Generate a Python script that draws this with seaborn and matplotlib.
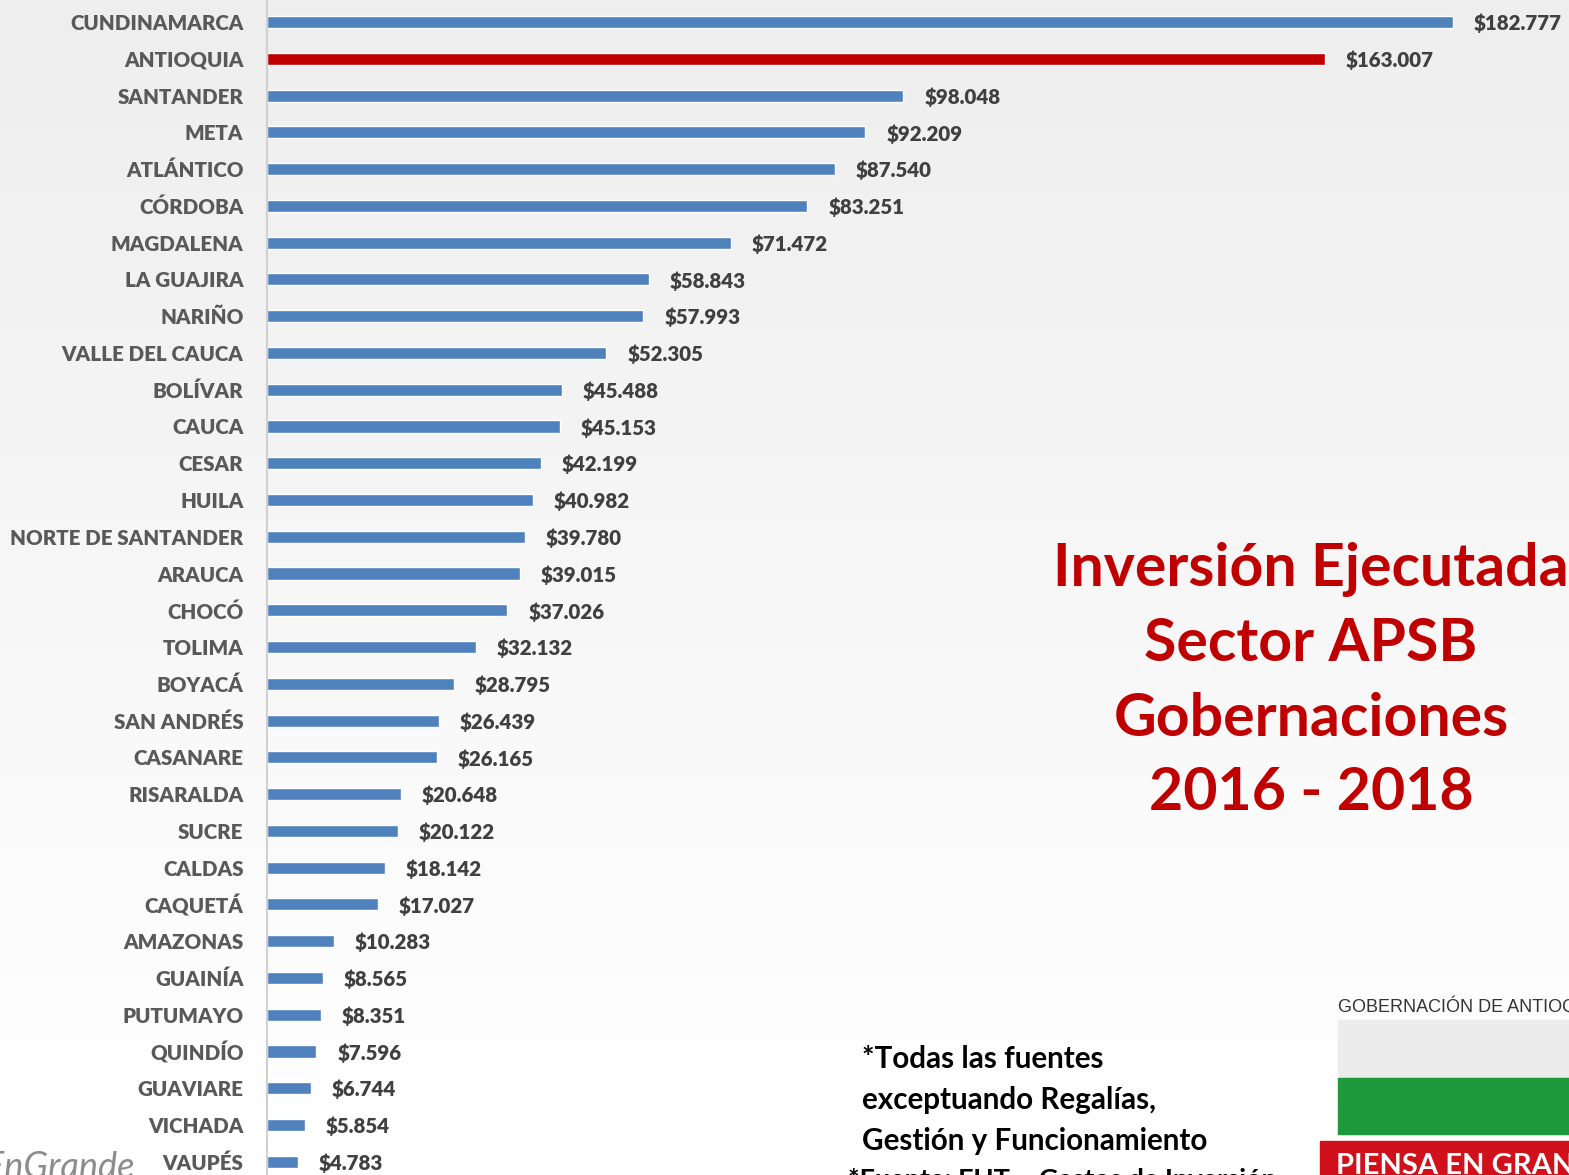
import matplotlib
matplotlib.use("Agg")
import matplotlib.pyplot as plt
import numpy as np
import pandas as pd
import seaborn as sns

departamentos = [
    "CUNDINAMARCA", "ANTIOQUIA", "SANTANDER", "META", "ATLÁNTICO", "CÓRDOBA",
    "MAGDALENA", "LA GUAJIRA", "NARIÑO", "VALLE DEL CAUCA", "BOLÍVAR", "CAUCA",
    "CESAR", "HUILA", "NORTE DE SANTANDER", "ARAUCA", "CHOCÓ", "TOLIMA",
    "BOYACÁ", "SAN ANDRÉS", "CASANARE", "RISARALDA", "SUCRE", "CALDAS",
    "CAQUETÁ", "AMAZONAS", "GUAINÍA", "PUTUMAYO", "QUINDÍO", "GUAVIARE",
    "VICHADA", "VAUPÉS",
]
inversion = [
    182777, 163007, 98048, 92209, 87540, 83251,
    71472, 58843, 57993, 52305, 45488, 45153,
    42199, 40982, 39780, 39015, 37026, 32132,
    28795, 26439, 26165, 20648, 20122, 18142,
    17027, 10283, 8565, 8351, 7596, 6744,
    5854, 4783,
]
destacado = "ANTIOQUIA"

titulo = "Inversión Ejecutada\nSector APSB\nGobernaciones\n2016 - 2018"
nota = "*Todas las fuentes\nexceptuando Regalías,\nGestión y Funcionamiento"
fuente = "*Fuente: FUT – Gastos de Inversión"

df = pd.DataFrame({"departamento": departamentos, "inversion": inversion})

sns.set_theme(style="white")
plt.rcParams["font.family"] = ["Lato", "DejaVu Sans"]

W, H = 1569, 1175
fig = plt.figure(figsize=(W / 100, H / 100), dpi=100)

# soft grey background like the slide
bg = fig.add_axes([0, 0, 1, 1], zorder=0)
grad = np.linspace(0.93, 1.0, 256).reshape(-1, 1)
bg.imshow(grad, cmap="gray", vmin=0, vmax=1, aspect="auto", extent=[0, 1, 0, 1], origin="upper")
bg.set_axis_off()

ax = fig.add_axes([267 / W, 0, (W - 267) / W, 1], zorder=1)
ax.patch.set_alpha(0)

palette = {d: ("#C00000" if d == destacado else "#4F81BD") for d in departamentos}
sns.barplot(data=df, y="departamento", x="inversion", hue="departamento",
            palette=palette, orient="h", width=0.33, legend=False,
            saturation=1, ax=ax)

ax.set_xlim(0, (W - 267) / 6.49 * 1000)
ax.set_ylim(31.36, -0.6)
ax.set_xlabel("")
ax.set_ylabel("")
ax.set_xticks([])
for s in ["top", "right", "bottom"]:
    ax.spines[s].set_visible(False)
ax.spines["left"].set_color("#d0d0d0")
ax.spines["left"].set_linewidth(1.5)
ax.tick_params(axis="y", length=0, pad=17)
for lbl in ax.get_yticklabels():
    lbl.set_fontsize(14.8)
    lbl.set_fontweight("heavy")
    lbl.set_color("#595959")

for i, v in enumerate(inversion):
    ax.annotate("$" + f"{v:,}".replace(",", "."), xy=(v, i + 0.04), xytext=(15, 0),
                textcoords="offset points", va="center", ha="left",
                fontsize=14.8, fontweight="heavy", color="#404040")

# title block
fig.text(1311 / W, 1 - 681 / H, titulo, ha="center", va="center",
         fontsize=42.5, fontweight="bold", color="#C00000", linespacing=1.46)

# notes
fig.text(862 / W, 1 - 1100 / H, nota, ha="left", va="center",
         fontsize=21.3, fontweight="bold", color="#000000", linespacing=1.55)
fig.text(848 / W, 1 - 1180 / H, fuente, ha="left", va="center",
         fontsize=19.5, fontweight="bold", color="#000000")

# logo
logo = fig.add_axes([0, 0, 1, 1], zorder=2)
logo.set_xlim(0, W)
logo.set_ylim(H, 0)
logo.set_axis_off()
logo.patch.set_alpha(0)
logo.text(1338, 1006, "GOBERNACIÓN DE ANTIOQUIA", fontsize=13, color="#333333",
          va="center", ha="left", family=["Liberation Sans Narrow", "Liberation Sans", "DejaVu Sans"])
logo.add_patch(plt.Rectangle((1338, 1020), 240, 58, color="#ececec"))
logo.add_patch(plt.Rectangle((1338, 1078), 240, 56, color="#1e9a3c"))
logo.add_patch(plt.Rectangle((1320, 1141), 260, 40, color="#d0101a"))
logo.text(1336, 1166, "PIENSA EN GRANDE", fontsize=21, fontweight="bold",
          color="white", va="center", ha="left")
logo.text(135, 1168, "#PiensaEnGrande", fontsize=26, style="italic",
          color="#8c8c8c", va="center", ha="right")

fig.savefig("out.png", dpi=100)
